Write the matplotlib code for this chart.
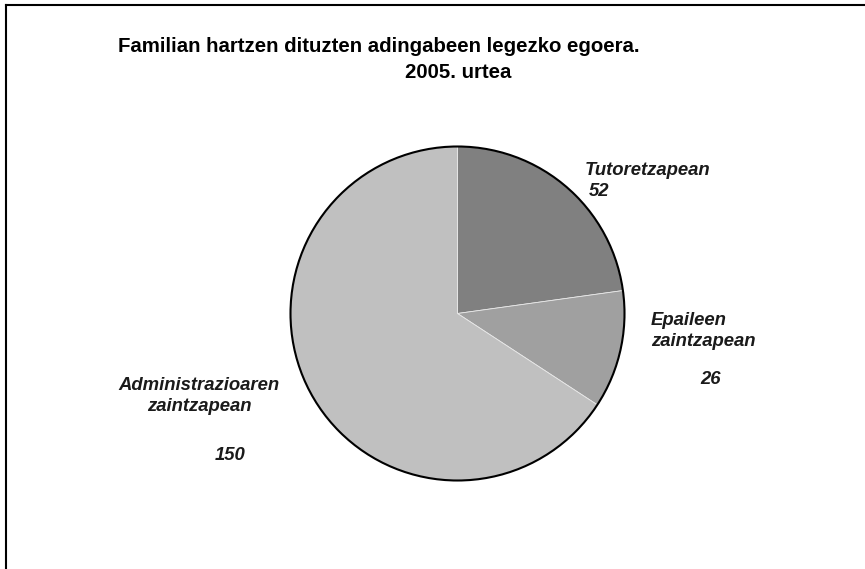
import matplotlib
matplotlib.use("Agg")
import matplotlib.pyplot as plt
from matplotlib.patches import Circle
from matplotlib.lines import Line2D

categories = ["Tutoretzapean", "Epaileen\nzaintzapean", "Administrazioaren\nzaintzapean"]
values = [52, 26, 150]
colors = ["#808080", "#a0a0a0", "#c0c0c0"]
title_line1 = "Familian hartzen dituzten adingabeen legezko egoera."
title_line2 = "2005. urtea"

W, H = 865, 569
fig = plt.figure(figsize=(W / 100, H / 100), dpi=100)
plt.rcParams['font.family'] = ['Liberation Sans', 'DejaVu Sans']

cx, cy, r = 457.5, 313.5, 167
ax = fig.add_axes([(cx - r) / W, (H - cy - r) / H, 2 * r / W, 2 * r / H])
wedges, _ = ax.pie(values, colors=colors, startangle=90, counterclock=False,
                   radius=1, wedgeprops=dict(edgecolor="#e8e8e8", linewidth=0.6))
for w in wedges:
    w.set_clip_on(False)
circ = Circle((0, 0), 1, fill=False, edgecolor="black", linewidth=1.5)
circ.set_clip_on(False)
ax.add_patch(circ)
ax.set_xlim(-1, 1)
ax.set_ylim(-1, 1)
ax.axis("off")

def px(x, y):
    return x / W, 1 - y / H

# frame
fig.add_artist(Line2D([6 / W, 1.0], [1 - 5 / H, 1 - 5 / H], color="black", lw=1.5, transform=fig.transFigure))
fig.add_artist(Line2D([6 / W, 6 / W], [1 - 5 / H, 0.0], color="black", lw=1.5, transform=fig.transFigure))

tkw = dict(fontsize=14.7, fontweight="bold", color="black", va="center", ha="center")
fig.text(*px(379, 46), title_line1, **tkw)
fig.text(*px(458, 72), title_line2, **tkw)

lkw = dict(fontsize=13.3, fontweight="bold", fontstyle="italic", color="#1a1a1a", va="center")
# Tutoretzapean
fig.text(*px(585, 170), categories[0], ha="left", **lkw)
fig.text(*px(589, 191), str(values[0]), ha="left", **lkw)
# Epaileen
fig.text(*px(651, 331), categories[1], ha="left", linespacing=1.32, **lkw)
fig.text(*px(700, 380), str(values[1]), ha="left", **lkw)
# Administrazioaren
fig.text(*px(199, 396), categories[2], ha="center", linespacing=1.32, multialignment="center", **lkw)
fig.text(*px(230, 455), str(values[2]), ha="center", **lkw)

fig.savefig("out.png", dpi=100)
